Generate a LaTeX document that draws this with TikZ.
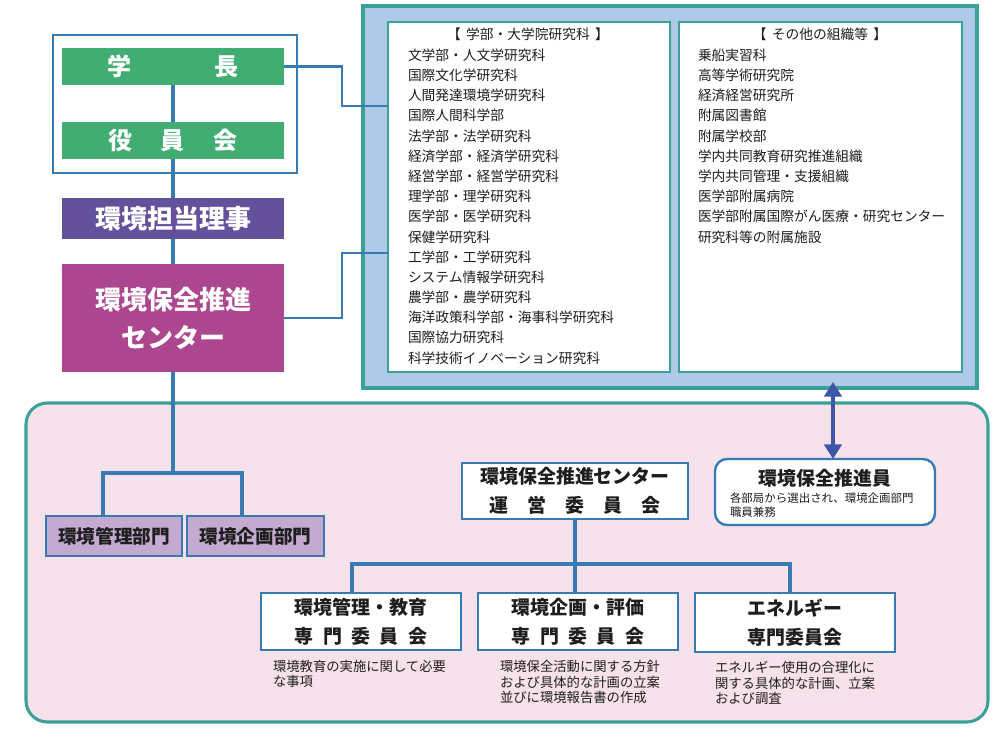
\documentclass[tikz,border=0pt]{standalone}
\usepackage{fontspec}
\setmainfont{Noto Sans CJK JP}
\usetikzlibrary{arrows.meta}
\definecolor{cgreen}{RGB}{65,173,115}
\definecolor{cpurple}{RGB}{99,81,155}
\definecolor{cmagenta}{RGB}{172,70,142}
\definecolor{cline}{RGB}{55,123,178}
\definecolor{cbluefill}{RGB}{174,202,232}
\definecolor{cteal}{RGB}{58,160,152}
\definecolor{cpink}{RGB}{247,226,235}
\definecolor{clilac}{RGB}{196,170,208}
\definecolor{carrow}{RGB}{63,85,168}
\definecolor{ctext}{RGB}{30,30,30}
\tikzset{
  solidbox/.style={draw=none, text=white, font=\bfseries},
  conn/.style={draw=cline, line width=2.6pt},
  thinconn/.style={draw=cline, line width=1.7pt},
  wbox/.style={draw=cline, line width=1.8pt, fill=white, font=\bfseries\fontsize{14.2pt}{21.5pt}\selectfont, align=center},
  dept/.style={draw=cline, line width=1.8pt, fill=clilac, font=\bfseries\fontsize{14pt}{16pt}\selectfont},
  listbox/.style={draw=cteal, line width=1.6pt, fill=white},
  item/.style={anchor=west, font=\fontsize{10.3pt}{12pt}\selectfont},
  desc/.style={anchor=west, align=left, font=\fontsize{10pt}{11.6pt}\selectfont},
  dblarrow/.style={draw=carrow, line width=3.6pt, {Triangle[width=13pt,length=11pt]}-{Triangle[width=13pt,length=11pt]}}
}
\begin{document}
\begin{tikzpicture}[x=0.75pt,y=-0.75pt,
  every node/.style={inner sep=0pt, outer sep=0pt, text=ctext}]
\useasboundingbox (0,0) rectangle (1000,737);

% background regions
\node[draw=cteal, line width=2.3pt, fill=cpink, rounded corners=16pt, minimum width=962*.75pt, minimum height=319*.75pt] (pinkbg) at (507,562.5) {};
\node[draw=cteal, line width=2.3pt, fill=cbluefill, minimum width=614*.75pt, minimum height=382*.75pt] (bluebg) at (670,197) {};
\node[listbox, minimum width=282*.75pt, minimum height=350*.75pt] (leftlist) at (529,197) {};
\node[listbox, minimum width=283*.75pt, minimum height=350*.75pt] (rightlist) at (820.5,197) {};

% frame around president and board
\node[draw=cline, line width=1.6pt, fill=white, minimum width=244*.75pt, minimum height=138*.75pt] (topframe) at (175,104) {};

% left column boxes
\node[solidbox, fill=cgreen, minimum width=222*.75pt, minimum height=37*.75pt, font=\bfseries\fontsize{18pt}{20pt}\selectfont] (gakucho) at (173,66.5) {学\hspace{63pt}長};
\node[solidbox, fill=cgreen, minimum width=222*.75pt, minimum height=37*.75pt, font=\bfseries\fontsize{18pt}{20pt}\selectfont] (yakuin) at (173,140.5) {役\hspace{21.5pt}員\hspace{21.5pt}会};
\node[solidbox, fill=cpurple, minimum width=222*.75pt, minimum height=41*.75pt, font=\bfseries\fontsize{19.5pt}{22pt}\selectfont] (riji) at (173,218.5) {環境担当理事};
\node[solidbox, fill=cmagenta, minimum width=222*.75pt, minimum height=108*.75pt, align=center, font=\bfseries\fontsize{19.5pt}{28.5pt}\selectfont] (center) at (173,318) {環境保全推進\\センター};

% vertical spine
\draw[conn] (gakucho.south) -- (yakuin.north);
\draw[conn] (yakuin.south) -- (riji.north);
\draw[conn] (riji.south) -- (center.north);
\coordinate (branch) at (173,473);
\draw[conn] (center.south) -- (branch);

% connectors to the organisation list
\draw[thinconn] (gakucho.east) -| (342,106) -- (leftlist.west |- 0,106);
\draw[thinconn] (center.east) -| (342,253) -- (leftlist.west |- 0,253);

% list contents
\node[font=\fontsize{10.3pt}{12pt}\selectfont] (lhead) at (528,34) {【\hspace{4pt}学部・大学院研究科\hspace{4pt}】};
\foreach \t [count=\i] in {文学部・人文学研究科,国際文化学研究科,人間発達環境学研究科,国際人間科学部,法学部・法学研究科,経済学部・経済学研究科,経営学部・経営学研究科,理学部・理学研究科,医学部・医学研究科,保健学研究科,工学部・工学研究科,システム情報学研究科,農学部・農学研究科,海洋政策科学部・海事科学研究科,国際協力研究科,科学技術イノベーション研究科}
  \node[item] (L\i) at (408,{55+20.2*(\i-1)}) {\t};
\node[font=\fontsize{10.3pt}{12pt}\selectfont] (rhead) at (820,34) {【\hspace{4pt}その他の組織等\hspace{4pt}】};
\foreach \t [count=\i] in {乗船実習科,高等学術研究院,経済経営研究所,附属図書館,附属学校部,学内共同教育研究推進組織,学内共同管理・支援組織,医学部附属病院,医学部附属国際がん医療・研究センター,研究科等の附属施設}
  \node[item] (R\i) at (698,{55+20.2*(\i-1)}) {\t};

% departments
\node[dept, minimum width=136*.75pt, minimum height=40*.75pt] (kanri) at (114,536) {環境管理部門};
\node[dept, minimum width=137*.75pt, minimum height=40*.75pt] (kikaku) at (255.5,536) {環境企画部門};
\draw[conn] (kanri.north -| 103,0) |- (branch) -| (kikaku.north -| 242,0);

% steering committee
\node[wbox, minimum width=226*.75pt, minimum height=56*.75pt] (unei) at (575,491) {環境保全推進センター\\運　営　委　員　会};

% committees
\node[wbox, minimum width=200*.75pt, minimum height=57*.75pt] (com1) at (361,621.5) {環境管理・教育\\専\hspace{.5em}門\hspace{.5em}委\hspace{.5em}員\hspace{.5em}会};
\node[wbox, minimum width=200*.75pt, minimum height=57*.75pt] (com2) at (578,621.5) {環境企画・評価\\専\hspace{.5em}門\hspace{.5em}委\hspace{.5em}員\hspace{.5em}会};
\node[wbox, minimum width=200*.75pt, minimum height=59*.75pt] (com3) at (795,622.5) {エネルギー\\専門委員会};
\coordinate (hbar) at (575,564);
\draw[conn] (unei.south) -- (hbar);
\draw[conn] (com1.north -| 352,0) |- (hbar) -| (com3.north -| 790,0);
\draw[conn] (hbar) -- (com2.north -| 575,0);

\node[desc] (d1) at (273,674) {環境教育の実施に関して必要\\な事項};
\node[desc] (d2) at (500,682) {環境保全活動に関する方針\\および具体的な計画の立案\\並びに環境報告書の作成};
\node[desc] (d3) at (715,683) {エネルギー使用の合理化に\\関する具体的な計画、立案\\および調査};

% promoters
\node[draw=cline, line width=1.8pt, fill=white, rounded corners=9pt, minimum width=220*.75pt, minimum height=66*.75pt] (suishin) at (825,492) {};
\node[font=\bfseries\fontsize{14.2pt}{16pt}\selectfont] (suishinT) at (825,478) {環境保全推進員};
\node[desc, font=\fontsize{8.6pt}{10.5pt}\selectfont] (suishinD) at (730,505) {各部局から選出され、環境企画部門\\職員兼務};

\draw[dblarrow] ([yshift=4.5pt]bluebg.south -| 833,0) -- (suishin.north -| 833,0);
\end{tikzpicture}
\end{document}
